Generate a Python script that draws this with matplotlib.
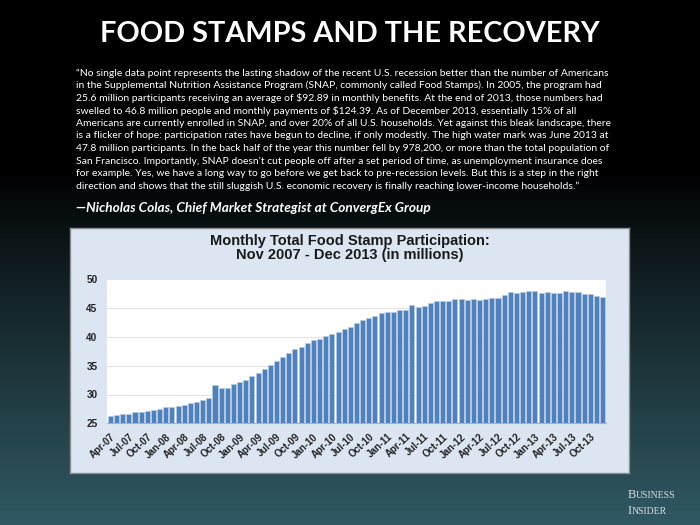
import numpy as np
import matplotlib
matplotlib.use("Agg")
import matplotlib.pyplot as plt

# monthly participants (millions), Apr-07 .. Dec-13
participants = [
    26.3, 26.4, 26.6, 26.6, 26.9, 26.9, 27.2, 27.3, 27.5,
    27.8, 27.8, 28.0, 28.1, 28.5, 28.7, 29.1, 29.4, 31.6, 31.1, 31.1, 31.8,
    32.2, 32.6, 33.2, 33.8, 34.4, 35.1, 35.9, 36.5, 37.15, 37.95, 38.2, 39.0,
    39.4, 39.6, 40.1, 40.45, 40.85, 41.3, 41.8, 42.4, 42.9, 43.2, 43.6, 44.15,
    44.3, 44.3, 44.6, 44.65, 45.5, 45.25, 45.4, 45.8, 46.3, 46.3, 46.3, 46.5,
    46.5, 46.35, 46.5, 46.35, 46.5, 46.75, 46.75, 47.2, 47.8, 47.7, 47.75, 47.9,
    47.9, 47.7, 47.8, 47.7, 47.7, 47.9, 47.75, 47.75, 47.4, 47.5, 47.15, 46.9,
]
tick_labels = [
    "Apr-07", "Jul-07", "Oct-07", "Jan-08", "Apr-08", "Jul-08", "Oct-08",
    "Jan-09", "Apr-09", "Jul-09", "Oct-09", "Jan-10", "Apr-10", "Jul-10",
    "Oct-10", "Jan-11", "Apr-11", "Jul-11", "Oct-11", "Jan-12", "Apr-12",
    "Jul-12", "Oct-12", "Jan-13", "Apr-13", "Jul-13", "Oct-13",
]
y_ticks = [25, 30, 35, 40, 45, 50]

title = "FOOD STAMPS AND THE RECOVERY"
quote_lines = [
    "\u201cNo single data point represents the lasting shadow of the recent U.S. recession better than the number of Americans",
    "in the Supplemental Nutrition Assistance Program (SNAP, commonly called Food Stamps). In 2005, the program had",
    "25.6 million participants receiving an average of $92.89 in monthly benefits. At the end of 2013, those numbers had",
    "swelled to 46.8 million people and monthly payments of $124.39. As of December 2013, essentially 15% of all",
    "Americans are currently enrolled in SNAP, and over 20% of all U.S. households. Yet against this bleak landscape, there",
    "is a flicker of hope: participation rates have begun to decline, if only modestly. The high water mark was June 2013 at",
    "47.8 million participants. In the back half of the year this number fell by 978,200, or more than the total population of",
    "San Francisco. Importantly, SNAP doesn\u2019t cut people off after a set period of time, as unemployment insurance does",
    "for example. Yes, we have a long way to go before we get back to pre-recession levels. But this is a step in the right",
    "direction and shows that the still sluggish U.S. economic recovery is finally reaching lower-income households.\u201d",
]
attribution = "\u2014Nicholas Colas, Chief Market Strategist at ConvergEx Group"
chart_title = "Monthly Total Food Stamp Participation:\nNov 2007 - Dec 2013 (in millions)"

W, H = 700, 525
fig = plt.figure(figsize=(7, 5.25), dpi=100)

# slide background: black fading to dark teal at the bottom
bg = fig.add_axes([0, 0, 1, 1])
rows = np.arange(H)
t = np.clip((rows - 170) / (H - 170), 0, 1) ** 0.9
teal = np.array([0.19, 0.35, 0.39])
grad = t[:, None, None] * teal[None, None, :]
grad = np.repeat(grad, 2, axis=1)
bg.imshow(grad, aspect="auto", extent=[0, 1, 0, 1], origin="upper")
bg.set_axis_off()

fig.text(0.5, 1 - 34 / H, title, ha="center", va="center", color="white",
         fontsize=20.8, fontweight="bold", family="Lato")

for i, line in enumerate(quote_lines):
    fig.text(76 / W, 1 - (73 + i * 12.55) / H, line, ha="left", va="center",
             color="white", fontsize=7.5, family="Lato")

fig.text(76 / W, 1 - 208 / H, attribution, ha="left", va="center", color="white",
         fontsize=9.85, family="Lato", style="italic", fontweight="bold")

# chart panel
panel = fig.add_axes([70 / W, 1 - 473 / H, 559 / W, 245 / H])
panel.set_facecolor("#dce6f2")
panel.set_xticks([])
panel.set_yticks([])
for s in panel.spines.values():
    s.set_color("#8c8c8c")
    s.set_linewidth(1.0)

fig.text(350 / W, 1 - 248 / H, chart_title, ha="center", va="center",
         fontsize=10.5, fontweight="bold", family="Liberation Sans",
         color="#1a1a1a", linespacing=1.0)

ax = fig.add_axes([107.3 / W, 1 - 423.3 / H, 498.4 / W, 144 / H])
ax.set_facecolor("white")
x = np.arange(len(participants))
ax.bar(x, participants, width=0.82, color="#4f81bd", edgecolor="#b8cbe4",
       linewidth=0.5, zorder=3)
ax.set_xlim(-0.5, len(participants) - 0.5)
ax.set_ylim(25, 50)
ax.set_yticks(y_ticks)
ax.set_yticklabels([str(v) for v in y_ticks], fontsize=7.2, fontweight="bold",
                   family="Liberation Sans", color="#222222")
ax.set_xticks(x[::3])
ax.set_xticklabels(tick_labels, rotation=43, ha="right", rotation_mode="anchor",
                   fontsize=7, fontweight="bold", family="Liberation Sans",
                   color="#222222")
ax.tick_params(axis="y", length=0, pad=7)
ax.tick_params(axis="x", length=0, pad=6)
ax.grid(axis="y", color="#e4e4e4", linewidth=0.8, zorder=0)
for side in ["top", "right", "left"]:
    ax.spines[side].set_visible(False)
ax.spines["bottom"].set_color("#b0b0b0")

# logo
fig.text(628 / W, 1 - 498 / H, "B", ha="left", va="baseline", color="#dcdcdc",
         fontsize=9, family="Liberation Serif")
fig.text(636 / W, 1 - 498 / H, "USINESS", ha="left", va="baseline", color="#dcdcdc",
         fontsize=7, family="Liberation Serif")
fig.text(628 / W, 1 - 514 / H, "I", ha="left", va="baseline", color="#dcdcdc",
         fontsize=9, family="Liberation Serif")
fig.text(632 / W, 1 - 514 / H, "NSIDER", ha="left", va="baseline", color="#dcdcdc",
         fontsize=7, family="Liberation Serif")

fig.savefig("out.png", dpi=100)
